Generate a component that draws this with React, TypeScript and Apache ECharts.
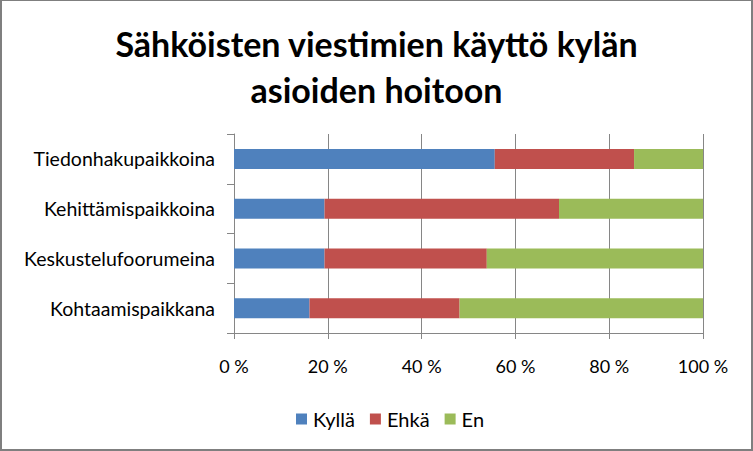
import React, { useEffect, useRef } from "react";
import * as echarts from "echarts";

const categories = ["Tiedonhakupaikkoina", "Kehittämispaikkoina", "Keskustelufoorumeina", "Kohtaamispaikkana"];
const kylla = [55.6, 19.3, 19.3, 16.1];
const ehka = [29.7, 50.0, 34.6, 32.0];
const en = [14.7, 30.7, 46.1, 51.9];
const seriesNames = ["Kyllä", "Ehkä", "En"];
const colors = ["#4F81BD", "#C0504D", "#9BBB59"];
const titleText = "Sähköisten viestimien käyttö kylän\nasioiden hoitoon";

const FONT = "Lato";

export default function App() {
  const ref = useRef<HTMLDivElement>(null);
  useEffect(() => {
    if (!ref.current) return;
    const chart = echarts.init(ref.current, null, { renderer: "svg" });
    const data = [kylla, ehka, en];
    chart.setOption({
      animation: false,
      backgroundColor: "#ffffff",
      title: {
        text: titleText,
        left: "center",
        top: 15,
        textStyle: { fontFamily: FONT, fontWeight: "bold", fontSize: 34, color: "#000", lineHeight: 46 },
      },
      grid: { left: 234, right: 50, top: 134, bottom: 118, containLabel: false },
      legend: {
        bottom: 17,
        left: 291,
        itemWidth: 11,
        itemHeight: 11,
        itemGap: 15,
        icon: "rect",
        textStyle: { fontFamily: FONT, fontSize: 20, color: "#000", padding: [0, 0, 0, 1] },
        data: seriesNames,
      },
      xAxis: {
        type: "value",
        min: 0,
        max: 100,
        interval: 20,
        axisLabel: { formatter: "{value} %", fontFamily: FONT, fontSize: 18, color: "#000", margin: 24 },
        axisLine: { show: true, lineStyle: { color: "#868686" } },
        axisTick: { show: true, length: 6, lineStyle: { color: "#868686" } },
        splitLine: { show: true, lineStyle: { color: "#868686", width: 1 } },
      },
      yAxis: {
        type: "category",
        inverse: true,
        data: categories,
        axisLabel: { fontFamily: FONT, fontSize: 19.5, color: "#000", margin: 19 },
        axisLine: { show: true, lineStyle: { color: "#868686" } },
        axisTick: { show: true, length: 7, lineStyle: { color: "#868686" } },
      },
      series: seriesNames.map((n, i) => ({
        name: n,
        type: "bar",
        stack: "total",
        data: data[i],
        barWidth: 20,
        itemStyle: { color: colors[i] },
      })),
    });
    return () => chart.dispose();
  }, []);
  return (
    <div style={{ position: "absolute", left: 0, top: 0, width: 753, height: 451 }}>
      <div ref={ref} style={{ width: 753, height: 451 }} />
      <div
        style={{
          position: "absolute",
          left: 0,
          top: 0,
          width: 753,
          height: 451,
          boxSizing: "border-box",
          borderStyle: "solid",
          borderColor: "#7f7f7f",
          borderWidth: "1px 2px 2px 2px",
          pointerEvents: "none",
        }}
      />
    </div>
  );
}
